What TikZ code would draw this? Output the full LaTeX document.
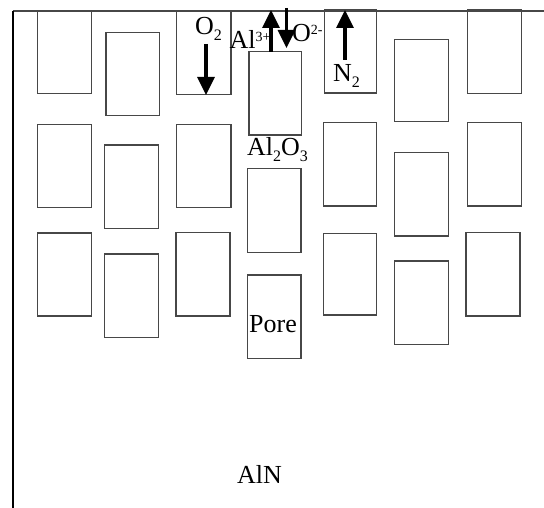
\documentclass[tikz,border=0pt]{standalone}
\usepackage{fontspec}
\setmainfont{Liberation Serif}
\usetikzlibrary{arrows.meta}
\newcommand{\lowidx}[1]{\raisebox{-0.42ex}{\fontsize{16}{16}\selectfont #1}}
\newcommand{\highidx}[1]{\raisebox{0.62ex}{\fontsize{14}{14}\selectfont #1}}
\tikzset{
  grain/.style={draw=black!72, line width=1.3pt},
  flux/.style={line width=3.2pt, -{Triangle[width=17pt,length=18pt]}},
  lbl/.style={inner sep=0pt, anchor=base west, font=\fontsize{26}{28}\selectfont}
}
\begin{document}
\begin{tikzpicture}[x=1pt,y=-1pt]
\useasboundingbox (0,0) rectangle (544,508);
\fill[white] (0,0) rectangle (544,508);
% surface and edge
\coordinate (corner) at (12.7,11);
\coordinate (topright) at (544,11);
\coordinate (bottomleft) at (12.7,508);
\draw[black!72, line width=1.3pt] (corner) -- (topright);
\draw[black, line width=1.6pt] (corner) -- (bottomleft);
% grains
\foreach \a/\b/\c/\d in {
  37.3/11/91.7/93.3, 37.3/124.3/91.7/207.7, 37.3/233/91.7/316,
  106/32.3/159.7/115.7, 104.7/145/158.3/228.7, 104.7/254/158.3/337.3,
  176.7/11/231/94.3, 176.7/124.3/231/207.7, 176/232.7/230/316,
  249/51.7/301.7/135, 247.7/168.3/301/252.3, 247.7/275/301/358.3,
  324.3/10/376.7/93, 323.3/122.7/376.7/206, 323.3/233.3/376.7/315,
  394.7/39.7/448.3/121.7, 394.7/152.7/448.3/236, 394.7/261/448.3/344.3,
  467.3/10/521.3/93.3, 467.3/122.7/521.3/206, 466/232.7/520/316}
  \draw[grain] (\a,\b) rectangle (\c,\d);
% arrows
\coordinate (o2s) at (206,44);
\coordinate (o2e) at (206,95);
\coordinate (als) at (271,52);
\coordinate (ale) at (271,10);
\coordinate (oxs) at (286.5,8);
\coordinate (oxe) at (286.5,48);
\coordinate (n2s) at (345,60);
\coordinate (n2e) at (345,10);
\draw[flux] (o2s) -- (o2e);
\draw[flux] (als) -- (ale);
\draw[flux] (oxs) -- (oxe);
\draw[flux] (n2s) -- (n2e);
% labels
\node[lbl] (lo2) at (195,35) {O\lowidx{2}};
\node[lbl] (lal) at (229.5,49) {Al\highidx{3+}};
\node[lbl] (lox) at (292,42) {O\highidx{2-}};
\node[lbl] (ln2) at (333,82) {N\lowidx{2}};
\node[lbl] (lal2o3) at (247,156) {Al\lowidx{2}O\lowidx{3}};
\node[lbl] (lpore) at (249,332) {Pore};
\node[lbl] (laln) at (237,483) {AlN};
\end{tikzpicture}
\end{document}
